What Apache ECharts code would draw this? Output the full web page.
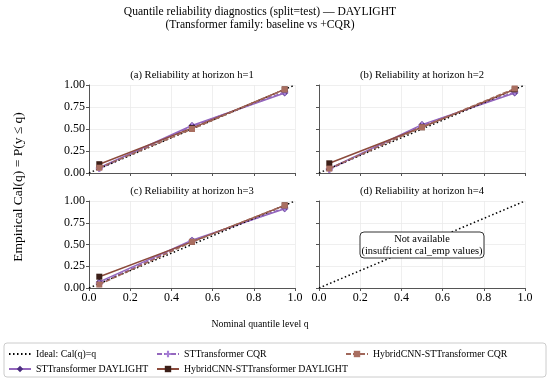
<!DOCTYPE html>
<html><head><meta charset="utf-8">
<script src="https://cdn.jsdelivr.net/npm/echarts@6/dist/echarts.min.js"></script>
<style>html,body{margin:0;padding:0;background:#fff}#c{width:550px;height:381px}</style>
</head><body><div id="c"></div>
<script>
const quantiles = [0.05, 0.5, 0.95];
const idealX = [0, 1];
const panelTitles = ['(a) Reliability at horizon h=1','(b) Reliability at horizon h=2','(c) Reliability at horizon h=3','(d) Reliability at horizon h=4'];
// per horizon values (h=1..3); h=4 not available
const stDaylight = [[0.06, 0.54, 0.91],[0.05, 0.55, 0.91],[0.07, 0.55, 0.91]];
const stCqr      = [[0.05, 0.53, 0.92],[0.04, 0.54, 0.92],[0.05, 0.54, 0.92]];
const hyDaylight = [[0.10, 0.51, 0.95],[0.11, 0.52, 0.95],[0.13, 0.53, 0.95]];
const hyCqr      = [[0.06, 0.50, 0.95],[0.05, 0.52, 0.96],[0.04, 0.53, 0.95]];
const names = ['Ideal: Cal(q)=q','STTransformer DAYLIGHT','STTransformer CQR','HybridCNN-STTransformer DAYLIGHT','HybridCNN-STTransformer CQR'];

const FONT = '"Liberation Serif", "Times New Roman", Times, serif';
const grids = [
  {left:89, top:85, width:206, height:88},
  {left:319, top:85, width:206, height:88},
  {left:89, top:201, width:206, height:87},
  {left:319, top:201, width:206, height:87}
];
const plusPath = 'path://M-1,-3H1V-1H3V1H1V3H-1V1H-3V-1H-1Z';
const styles = [
  {color:'#9467bd', type:'solid', symbol:'diamond', mcolor:'#4b2d7f', size:7},
  {color:'#9467bd', type:[5,2], symbol:plusPath, mcolor:'#a67ed6', size:7},
  {color:'#8c4b3c', type:'solid', symbol:'rect', mcolor:'#3c1f18', size:6},
  {color:'#a0675a', type:[5,2], symbol:'rect', mcolor:'#a96e60', size:6}
];
const datasets = [stDaylight, stCqr, hyDaylight, hyCqr];

const xAxis = [], yAxis = [], series = [], title = [];
grids.forEach((g, i) => {
  const bottomRow = i >= 2, leftCol = i % 2 === 0;
  title.push({text:panelTitles[i], left:g.left + g.width/2, top:g.top - 15, textAlign:'center', padding:0,
    textStyle:{fontFamily:FONT, fontSize:10.6, fontWeight:'normal', color:'#000'}});
  xAxis.push({type:'value', gridIndex:i, min:0, max:1, interval:0.2,
    axisLine:{show:true, lineStyle:{color:'#555'}}, axisTick:{show:true, length:3, lineStyle:{color:'#555'}},
    axisLabel:{show:bottomRow, fontFamily:FONT, fontSize:12, color:'#000', margin:4, formatter:v=>v.toFixed(1)},
    splitLine:{show:true, lineStyle:{color:'#ebebeb', width:0.8}}});
  yAxis.push({type:'value', gridIndex:i, min:0, max:1, interval:0.25,
    axisLine:{show:true, lineStyle:{color:'#555'}}, axisTick:{show:true, length:3, lineStyle:{color:'#555'}},
    axisLabel:{show:leftCol, fontFamily:FONT, fontSize:12, color:'#000', margin:4, formatter:v=>v.toFixed(2)},
    splitLine:{show:true, lineStyle:{color:'#ebebeb', width:0.8}}});
  series.push({name:names[0], type:'line', xAxisIndex:i, yAxisIndex:i, data:idealX.map(v=>[v,v]),
    showSymbol:false, symbol:'none',
    lineStyle:{color:'#000', width:1.5, type:[1.5,2.5]}, itemStyle:{color:'#000'}, z:5, silent:true});
  if (i < 3) {
    datasets.forEach((ds, k) => {
      const s = styles[k];
      series.push({name:names[k+1], type:'line', xAxisIndex:i, yAxisIndex:i,
        data:quantiles.map((q,j)=>[q, ds[i][j]]), symbol:s.symbol, symbolSize:s.size, showSymbol:true,
        lineStyle:{color:s.color, width:1.5, type:s.type}, itemStyle:{color:s.mcolor}, z:3+k});
    });
  }
});

const legendText = {fontFamily:FONT, fontSize:9.8, color:'#000'};
const legends = [
  {data:[{name:names[0], itemStyle:{opacity:0}}, names[1]], left:8, top:349},
  {data:[names[2], names[3]], left:156, top:349},
  {data:[names[4]], left:345, top:349}
].map(l => Object.assign({orient:'vertical', itemWidth:22, itemHeight:8, itemGap:5, textStyle:legendText, padding:0, selectedMode:false}, l));

const d = grids[3];
const option = {
  animation:false,
  title, grid:grids, xAxis, yAxis, series, legend:legends,
  graphic:[
    {type:'rect', shape:{x:4, y:343, width:542, height:34, r:3}, style:{fill:'#fff', stroke:'#ccc', lineWidth:1}, z:-1},
    {type:'text', x:260, y:5, z:10, style:{text:'Quantile reliability diagnostics (split=test) — DAYLIGHT\n(Transformer family: baseline vs +CQR)', font:'11.6px ' + FONT, fill:'#000', align:'center', verticalAlign:'top', lineHeight:13}},
    {type:'text', x:260, y:319, z:10, style:{text:'Nominal quantile level q', font:'9.8px ' + FONT, fill:'#000', align:'center', verticalAlign:'top'}},
    {type:'text', x:18, y:187, z:10, rotation:Math.PI/2, style:{text:'Empirical Cal(q) = P(y ≤ q)', font:'13.5px ' + FONT, fill:'#000', align:'center', verticalAlign:'middle'}},
    {type:'rect', z:100, shape:{x:d.left + d.width/2 - 62, y:d.top + d.height/2 - 12.5, width:124, height:26, r:4}, style:{fill:'#fff', stroke:'#333', lineWidth:1}},
    {type:'text', z:101, x:d.left + d.width/2, y:d.top + d.height/2 + 0.5, style:{text:'Not available\n(insufficient cal_emp values)', font:'10.4px ' + FONT, fill:'#000', align:'center', verticalAlign:'middle', lineHeight:12}}
  ]
};
const chart = echarts.init(document.getElementById('c'), null, {renderer:'canvas'});
chart.setOption(option);
</script></body></html>
